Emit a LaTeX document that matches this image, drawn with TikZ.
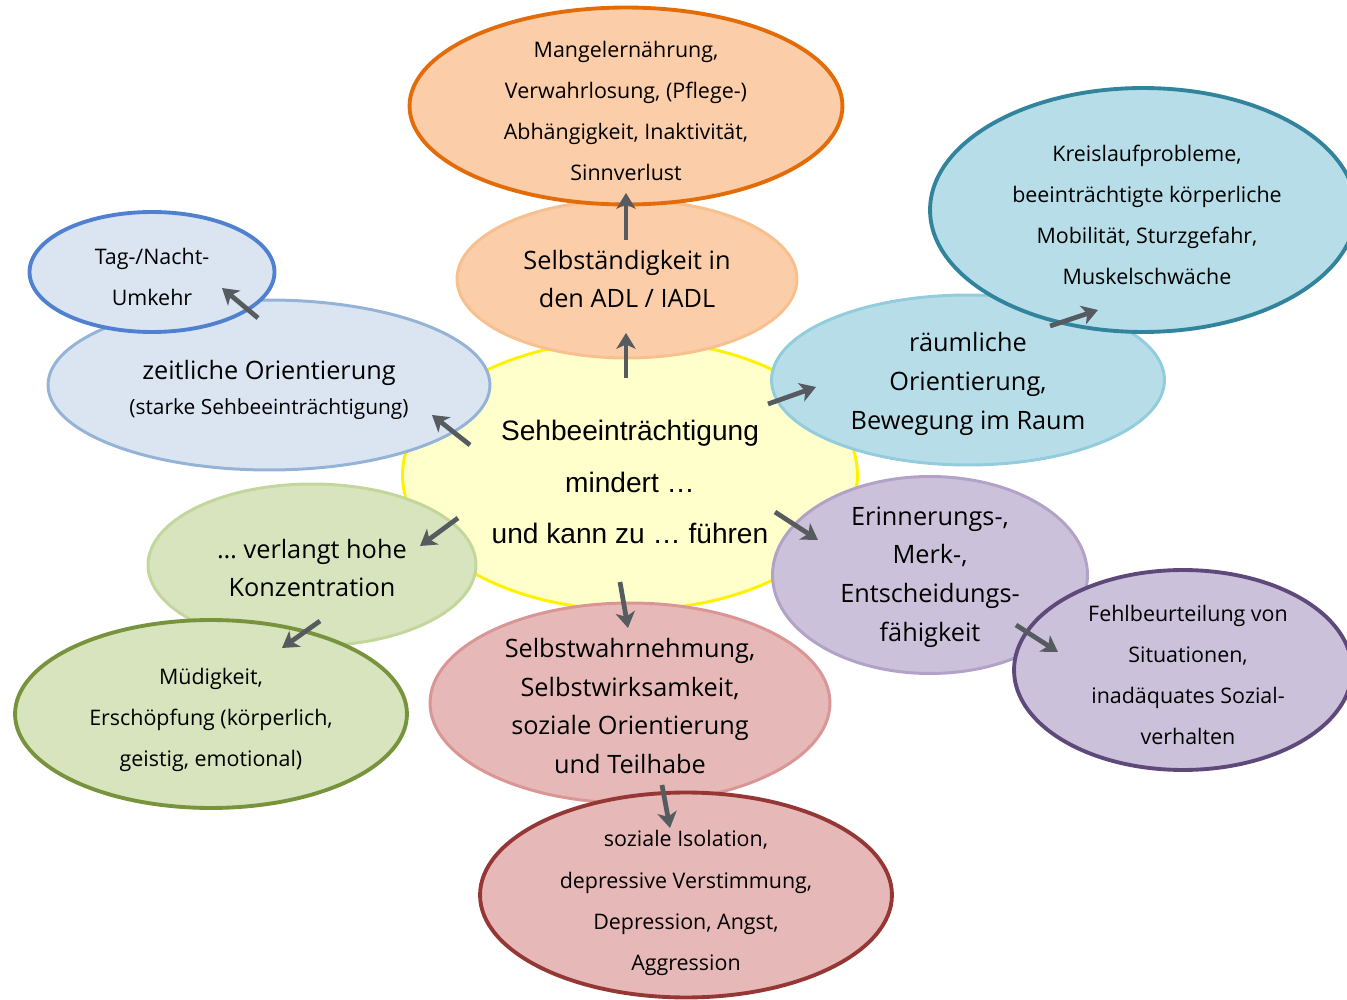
\documentclass[tikz,border=0pt]{standalone}
\usepackage{fontspec}
\setmainfont{Open Sans}
\newfontfamily\arialfont{Liberation Sans}
\usetikzlibrary{shapes.geometric,arrows.meta,calc}

\definecolor{gelbF}{HTML}{FFFFCC}
\definecolor{gelbL}{HTML}{FFF200}
\definecolor{orF}{HTML}{FBCDA9}
\definecolor{orL}{HTML}{E36C09}
\definecolor{orL2}{HTML}{F9C08F}
\definecolor{tuF}{HTML}{B7DDE8}
\definecolor{tuL}{HTML}{31849B}
\definecolor{tuL2}{HTML}{93CDDD}
\definecolor{blF}{HTML}{DBE5F1}
\definecolor{blL}{HTML}{4F81D0}
\definecolor{blL2}{HTML}{95B3D7}
\definecolor{grF}{HTML}{D7E4BD}
\definecolor{grL}{HTML}{77933C}
\definecolor{grL2}{HTML}{C3D69B}
\definecolor{rtF}{HTML}{E6B9B8}
\definecolor{rtL}{HTML}{953735}
\definecolor{rtL2}{HTML}{D99694}
\definecolor{viF}{HTML}{CCC1DA}
\definecolor{viL}{HTML}{5F497A}
\definecolor{viL2}{HTML}{B3A2C7}
\definecolor{pfeil}{HTML}{565B60}

\tikzset{
  oval/.style={ellipse, inner sep=0pt, outer sep=0pt},
  innen/.style={oval, line width=1.7pt},
  aussen/.style={oval, line width=2.2pt},
  txtgross/.style={align=center, font=\fontsize{14.4}{22.1}\selectfont},
  txtklein/.style={align=center, font=\fontsize{12.2}{23.4}\selectfont},
  arr/.style={pfeil, line width=2.7pt, -{Stealth[length=9pt,width=11pt,inset=2.5pt]}}
}

\begin{document}
\begin{tikzpicture}[x=0.02cm, y=-0.02cm]
\useasboundingbox (0,0) rectangle (1347,1000);
\clip (0,0) rectangle (1347,1000);

% Mitte
\node[oval, line width=1.7pt, draw=gelbL, fill=gelbF, minimum width=9.1cm, minimum height=5.4cm] (sehb) at (630,475) {};
\node[align=center, font=\arialfont\fontsize{16}{29.5}\selectfont] at ($(sehb)+(0,7)$) {Sehbeeinträchtigung\\mindert \dots\\und kann zu \dots\ führen};

% innere Ellipsen
\node[innen, draw=orL2, fill=orF, minimum width=6.8cm, minimum height=3.16cm] (adl) at (627,279) {};
\node[txtgross] at (adl) {Selbständigkeit in\\den ADL / IADL};

\node[innen, draw=blL2, fill=blF, minimum width=8.84cm, minimum height=3.4cm] (zeit) at (269,385) {};
\node[align=center, font=\fontsize{14.4}{19.5}\selectfont] at ($(zeit)+(0,5)$) {zeitliche Orientierung\\{\fontsize{11.9}{14}\selectfont(starke Sehbeeinträchtigung)}};

\node[innen, draw=tuL2, fill=tuF, minimum width=7.86cm, minimum height=3.4cm] (raum) at (968,380) {};
\node[txtgross] at ($(raum)+(0,4)$) {räumliche\\Orientierung,\\Bewegung im Raum};

\node[innen, draw=grL2, fill=grF, minimum width=6.56cm, minimum height=3.24cm] (konz) at (312,565) {};
\node[txtgross] at ($(konz)+(0,3)$) {\dots\ verlangt hohe\\Konzentration};

\node[innen, draw=rtL2, fill=rtF, minimum width=8cm, minimum height=4cm] (selbst) at (630,703) {};
\node[txtgross] at ($(selbst)+(0,3)$) {Selbstwahrnehmung,\\Selbstwirksamkeit,\\soziale Orientierung\\und Teilhabe};

\node[innen, draw=viL2, fill=viF, minimum width=6.3cm, minimum height=3.94cm] (erinn) at (930,575) {};
\node[txtgross] at ($(erinn)+(0,2)$) {Erinnerungs-,\\Merk-,\\Entscheidungs-\\fähigkeit};

% äußere Ellipsen
\node[aussen, draw=orL, fill=orF, minimum width=8.66cm, minimum height=3.94cm] (mangel) at (626,106) {};
\node[txtklein] at ($(mangel)+(0,5)$) {Mangelernährung,\\Verwahrlosung, (Pflege-)\\Abhängigkeit, Inaktivität,\\Sinnverlust};

\node[aussen, draw=blL, fill=blF, minimum width=4.9cm, minimum height=2.4cm] (tag) at (152,272) {};
\node[txtklein] at ($(tag)+(0,5)$) {Tag-/Nacht-\\Umkehr};

\node[aussen, draw=tuL, fill=tuF, minimum width=8.52cm, minimum height=4.88cm] (kreis) at (1143,210) {};
\node[txtklein] at ($(kreis)+(4,5)$) {Kreislaufprobleme,\\beeinträchtigte körperliche\\Mobilität, Sturzgefahr,\\Muskelschwäche};

\node[aussen, draw=grL, fill=grF, minimum width=7.84cm, minimum height=3.76cm] (muede) at (211,714) {};
\node[txtklein] at ($(muede)+(0,6)$) {Müdigkeit,\\Erschöpfung (körperlich,\\geistig, emotional)};

\node[aussen, draw=rtL, fill=rtF, minimum width=8.24cm, minimum height=4.1cm] (isol) at (686,895) {};
\node[txtklein] at ($(isol)+(0,8)$) {soziale Isolation,\\depressive Verstimmung,\\Depression, Angst,\\Aggression};

\node[aussen, draw=viL, fill=viF, minimum width=6.76cm, minimum height=4cm] (fehl) at (1183,670) {};
\node[txtklein] at ($(fehl)+(5,5)$) {Fehlbeurteilung von\\Situationen,\\inadäquates Sozial-\\verhalten};

% Pfeile
\foreach \i/\sx/\sy/\ex/\ey in {1/626/378/626/333, 2/626/240/626/193,
    3/470/445/432/415, 4/258/318/222/288, 5/768/404/816/387,
    6/1050/326/1098/310, 7/458/518/420/546, 8/320/621/282/648,
    9/620/582/628/628, 10/662/785/670/828, 11/775/512/818/540,
    12/1016/625/1058/652}{
  \coordinate (s\i) at (\sx,\sy);
  \coordinate (e\i) at (\ex,\ey);
  \draw[arr] (s\i) -- (e\i);
}
\end{tikzpicture}
\end{document}
